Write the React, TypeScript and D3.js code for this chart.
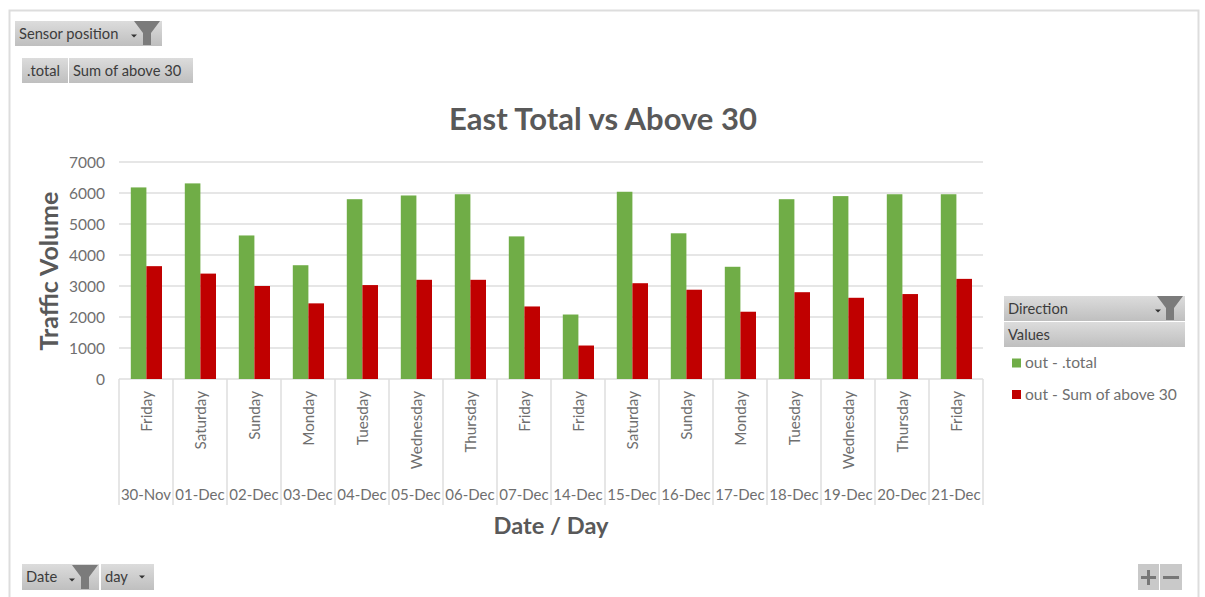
import React from "react";
import * as d3 from "d3";

// Daily eastbound traffic counts
const dates = ["30-Nov","01-Dec","02-Dec","03-Dec","04-Dec","05-Dec","06-Dec","07-Dec","14-Dec","15-Dec","16-Dec","17-Dec","18-Dec","19-Dec","20-Dec","21-Dec"];
const days = ["Friday","Saturday","Sunday","Monday","Tuesday","Wednesday","Thursday","Friday","Friday","Saturday","Sunday","Monday","Tuesday","Wednesday","Thursday","Friday"];
const totals = [6180,6310,4630,3670,5800,5920,5960,4600,2080,6040,4700,3620,5800,5900,5960,5960];
const above30 = [3640,3400,3000,2440,3030,3200,3200,2340,1080,3090,2880,2170,2800,2620,2740,3230];
const yTicks = [0,1000,2000,3000,4000,5000,6000,7000];
const seriesNames = ["out - .total","out - Sum of above 30"];

const GREEN = "#70ad47";
const RED = "#c00000";
const FONT = "Lato, 'Open Sans', sans-serif";
const LABEL = "#6f6f6f";
const GRID = "#dedede";

const x = d3.scaleBand<number>().domain(d3.range(dates.length)).range([119, 983]);
const y = d3.scaleLinear().domain([0, 7000]).range([379, 162]);
const barWidth = 15.6;

function Funnel({ cx, top }: { cx: number; top: number }) {
  const path = d3.path();
  path.moveTo(cx - 13, top);
  path.lineTo(cx + 13, top);
  path.lineTo(cx + 4, top + 12);
  path.lineTo(cx + 4, top + 24);
  path.lineTo(cx - 4, top + 24);
  path.lineTo(cx - 4, top + 12);
  path.closePath();
  return <path d={path.toString()} fill="#7b7b7b" />;
}

function Caret({ cx, cy }: { cx: number; cy: number }) {
  return <path d={`M${cx - 3},${cy - 1.5}L${cx + 3},${cy - 1.5}L${cx},${cy + 1.5}Z`} fill="#333" />;
}

function Button({ bx, by, w, h, label, tx }: { bx: number; by: number; w: number; h: number; label: string; tx?: number }) {
  return (
    <g>
      <rect x={bx} y={by} width={w} height={h} fill="url(#btn)" />
      <text x={tx ?? bx + 4} y={by + h / 2 + 5} fontSize={14.7} fill="#3c3c3c" fontFamily={FONT}>{label}</text>
    </g>
  );
}

export default function App() {
  return (
    <svg
      width={1205}
      height={597}
      viewBox="0 0 1205 597"
      style={{ position: "absolute", left: 0, top: 0, background: "#fff" }}
    >
      <defs>
        <linearGradient id="btn" x1="0" y1="0" x2="0" y2="1">
          <stop offset="0" stopColor="#dcdcdc" />
          <stop offset="1" stopColor="#bfbfbf" />
        </linearGradient>
      </defs>

      {/* chart frame */}
      <path d="M9.5,597V10.5H1198.5V597" fill="none" stroke="#dddddd" strokeWidth={2} />

      {/* pivot field buttons */}
      <Button bx={15} by={21} w={147} h={25} label="Sensor position" tx={19} />
      <Caret cx={134} cy={36} />
      <Funnel cx={147} top={21} />
      <Button bx={22} by={58} w={46} h={25} label=".total" tx={27} />
      <Button bx={69} by={58} w={124} h={25} label="Sum of above 30" tx={73} />

      <text x={603} y={130} textAnchor="middle" fontSize={31} fontWeight={700} fill="#595959" fontFamily={FONT}>East Total vs Above 30</text>

      {/* horizontal grid and value axis */}
      {yTicks.map((t) => (
        <g key={t}>
          <line x1={119} x2={983} y1={y(t)} y2={y(t)} stroke={GRID} strokeWidth={1.5} />
          <text x={105} y={y(t) + 5.5} textAnchor="end" fontSize={15.5} fill={LABEL} fontFamily={FONT}>{t}</text>
        </g>
      ))}

      {/* bars */}
      {dates.map((_, i) => {
        const cx = (x(i) as number) + x.bandwidth() / 2 + 0.4;
        return (
          <g key={i}>
            <rect x={cx - barWidth} y={y(totals[i])} width={barWidth} height={y(0) - y(totals[i])} fill={GREEN} />
            <rect x={cx} y={y(above30[i])} width={barWidth} height={y(0) - y(above30[i])} fill={RED} />
          </g>
        );
      })}

      {/* two-level category axis */}
      {d3.range(dates.length + 1).map((i) => {
        const px = 119 + i * x.bandwidth();
        return <line key={i} x1={px} x2={px} y1={379} y2={505} stroke={GRID} strokeWidth={1.5} />;
      })}
      {dates.map((d, i) => {
        const cx = (x(i) as number) + x.bandwidth() / 2;
        return (
          <g key={d}>
            <text
              transform={`translate(${cx + 6},391) rotate(-90)`}
              textAnchor="end"
              fontSize={15.2}
              fill={LABEL}
              fontFamily={FONT}
            >{days[i]}</text>
            <text x={cx} y={500} textAnchor="middle" fontSize={15} fill={LABEL} fontFamily={FONT}>{d}</text>
          </g>
        );
      })}

      {/* axis titles */}
      <text
        transform="translate(58,271) rotate(-90)"
        textAnchor="middle"
        fontSize={25}
        fontWeight={700}
        fill="#595959"
        fontFamily={FONT}
      >Traffic Volume</text>
      <text x={551} y={534} textAnchor="middle" fontSize={23.6} fontWeight={700} fill="#595959" fontFamily={FONT}>Date / Day</text>

      {/* legend with its field buttons */}
      <Button bx={1004} by={296} w={181} h={25} label="Direction" tx={1008} />
      <Caret cx={1158} cy={311} />
      <Funnel cx={1170} top={296} />
      <Button bx={1004} by={322} w={181} h={25} label="Values" tx={1008} />
      {seriesNames.map((name, i) => {
        const cy = 363 + i * 31.5;
        return (
          <g key={name}>
            <rect x={1012} y={cy - 4.5} width={9} height={9} fill={i === 0 ? GREEN : RED} />
            <text x={1025} y={cy + 5} fontSize={15.6} fill={LABEL} fontFamily={FONT}>{name}</text>
          </g>
        );
      })}

      {/* report filter and zoom buttons */}
      <Button bx={22} by={564} w={77} h={26} label="Date" tx={26} />
      <Caret cx={72} cy={580} />
      <Funnel cx={85} top={565} />
      <Button bx={101} by={564} w={53} h={26} label="day" tx={105} />
      <Caret cx={142} cy={577} />
      <rect x={1138} y={564} width={21} height={26} fill="#c9c9c9" />
      <rect x={1160} y={564} width={22} height={26} fill="#c9c9c9" />
      <path d="M1141,577.5H1156M1148.5,570V585M1163,577.5H1179" stroke="#777" strokeWidth={3} fill="none" />
    </svg>
  );
}
